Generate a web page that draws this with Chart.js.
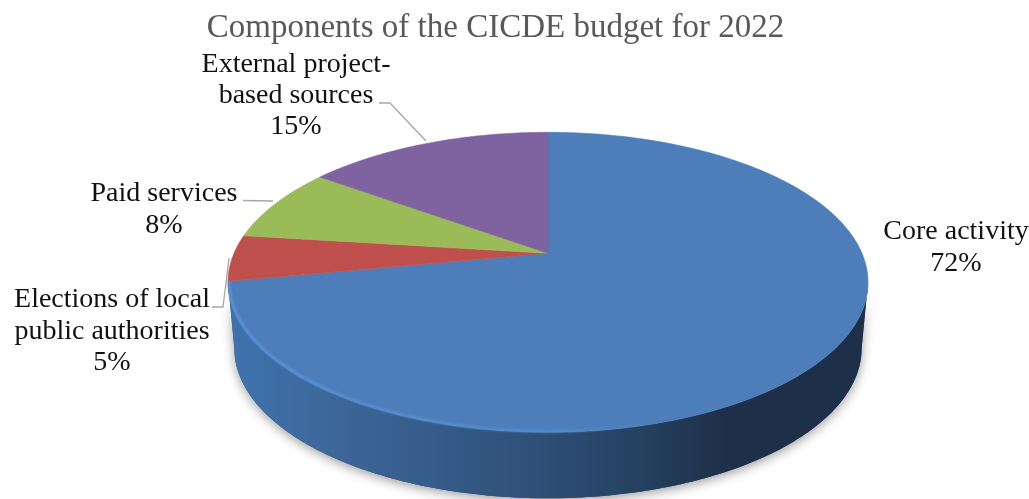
<!DOCTYPE html>
<html><head><meta charset="utf-8">
<style>html,body{margin:0;padding:0;background:#fff}#w{position:relative;width:1029px;height:499px}canvas{display:block}</style>
<script src="https://cdn.jsdelivr.net/npm/chart.js@4"></script></head>
<body><div id="w"><canvas id="c" width="1029" height="499"></canvas></div>
<script>
const titleText = 'Components of the CICDE budget for 2022';
const categories = ['Core activity','Elections of local public authorities','Paid services','External project-based sources'];
const values = [72,5,8,15];
const colors = ['#4d7eba','#bf504d','#9bbb59','#7f63a1'];
const labelLines = [['Core activity'],['Elections of local','public authorities'],['Paid services'],['External project-','based sources']];

const FONT = '"Liberation Serif", serif';
const SHIFT_X = 52.5, YS = 144.4, PERSP = -0.1933, DEPTH = 66, LOWER_X = 0.98;
const labelPos = [[956,239,32],[112,307,31.5],[164,201,32],[296,72,31]];
const leaders = [null,[[212,307],[223,307],[229,258]],[[243,200.5],[273,201]],[[379,103],[390,103],[426,141]]];

function proj(el,a,low){
  const u=Math.cos(a),v=Math.sin(a),d=1+PERSP*v;
  const k=low?LOWER_X:1;
  return [el.x+SHIFT_X+el.outerRadius*k*u/d, el.y+YS*v/d+(low?DEPTH:0)];
}
Chart.ArcElement.prototype.draw=function(ctx){
  const col=this.options.backgroundColor;
  ctx.save();ctx.beginPath();
  const o=proj(this,this.startAngle);ctx.moveTo(this.x+SHIFT_X,this.y);ctx.lineTo(o[0],o[1]);
  const n=Math.max(8,Math.ceil((this.endAngle-this.startAngle)*60));
  for(let i=1;i<=n;i++){const p=proj(this,this.startAngle+(this.endAngle-this.startAngle)*i/n);ctx.lineTo(p[0],p[1]);}
  ctx.closePath();ctx.fillStyle=col;ctx.fill();ctx.strokeStyle=col;ctx.lineWidth=.6;ctx.lineJoin='round';ctx.stroke();ctx.restore();
};
const A0=Math.asin(-PERSP), A1=Math.PI-A0;
function wallPath(ctx,el){
  const n=160;ctx.beginPath();
  for(let i=0;i<=n;i++){const p=proj(el,A0+(A1-A0)*i/n);i?ctx.lineTo(p[0],p[1]):ctx.moveTo(p[0],p[1]);}
  for(let i=n;i>=0;i--){const p=proj(el,A0+(A1-A0)*i/n,true);ctx.lineTo(p[0],p[1]);}
  ctx.closePath();
}
const pie3d={id:'pie3d',
  beforeDatasetsDraw(ch){
    const ctx=ch.ctx,el=ch.getDatasetMeta(0).data[0];
    ctx.save();ctx.shadowColor='rgba(0,0,0,.38)';ctx.shadowBlur=11;ctx.shadowOffsetY=3;
    wallPath(ctx,el);ctx.fillStyle='#2f5079';ctx.fill();ctx.restore();
    ctx.save();
    const L=el.x+SHIFT_X-el.outerRadius,R=el.x+SHIFT_X+el.outerRadius;
    const g=ctx.createLinearGradient(L,0,R,0);
    g.addColorStop(0,'#3f72ad');g.addColorStop(.17,'#3c6698');g.addColorStop(.45,'#30527c');
    g.addColorStop(.65,'#254060');g.addColorStop(.78,'#1e3049');g.addColorStop(1,'#1e3049');
    wallPath(ctx,el);ctx.fillStyle=g;ctx.fill();ctx.restore();
  },
  afterDatasetsDraw(ch){
    const ctx=ch.ctx,el=ch.getDatasetMeta(0).data[0];
    const L=el.x+SHIFT_X-el.outerRadius,R=el.x+SHIFT_X+el.outerRadius;
    ctx.save();
    const g=ctx.createLinearGradient(L,0,R,0);
    g.addColorStop(0,'rgba(92,152,222,.9)');g.addColorStop(.5,'rgba(92,152,222,.6)');g.addColorStop(.68,'rgba(92,152,222,0)');
    ctx.filter='blur(.8px)';ctx.strokeStyle=g;ctx.lineWidth=2.4;ctx.beginPath();
    const n=160;for(let i=0;i<=n;i++){const p=proj(el,A1-(A1-A0)*i/n);const q=[p[0]+(el.x+SHIFT_X-p[0])*.004,p[1]-1];i?ctx.lineTo(q[0],q[1]):ctx.moveTo(q[0],q[1]);}
    ctx.stroke();ctx.restore();
    ctx.save();ctx.strokeStyle='#a6a6a6';ctx.lineWidth=1.3;
    leaders.forEach(l=>{if(!l)return;ctx.beginPath();l.forEach((p,i)=>i?ctx.lineTo(p[0],p[1]):ctx.moveTo(p[0],p[1]));ctx.stroke();});
    ctx.fillStyle='#111';ctx.textAlign='center';ctx.textBaseline='alphabetic';ctx.font='28px '+FONT;
    labelLines.forEach((ls,i)=>{const [x,y,h]=labelPos[i];
      [...ls,values[i]+'%'].forEach((t,j)=>ctx.fillText(t,x,y+j*h));});
    ctx.restore();
  }};
new Chart(document.getElementById('c'),{type:'pie',
  data:{labels:categories,datasets:[{data:values,backgroundColor:colors,borderWidth:0,radius:314,clip:false}]},
  options:{responsive:false,animation:false,layout:{padding:{right:38,bottom:45}},
    plugins:{legend:{display:false},tooltip:{enabled:false},
      title:{display:true,text:titleText,color:'#595959',font:{family:FONT,size:33,weight:'normal'},padding:{top:9,bottom:4}}}},
  plugins:[pie3d]});
</script></body></html>
